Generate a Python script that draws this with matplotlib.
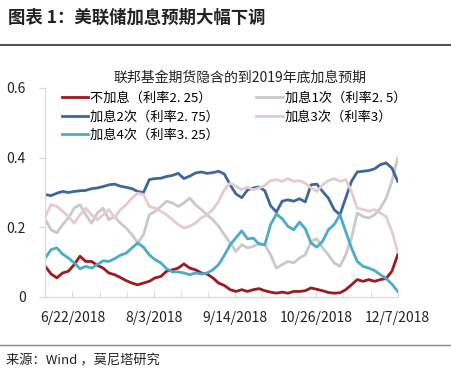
import pandas as pd
import matplotlib
matplotlib.use("Agg")
import matplotlib.pyplot as plt
from matplotlib.lines import Line2D

plt.rcParams['font.family'] = ['Noto Sans CJK SC', 'DejaVu Sans']

# dates: about every 3 days from 6/8/2018 to 12/7/2018
dates = pd.date_range("2018-06-08", "2018-12-07", periods=62)

# 不加息（利率2.25）
hike0 = [0.088, 0.066, 0.055, 0.069, 0.074, 0.093, 0.117, 0.102, 0.102, 0.091,
         0.083, 0.069, 0.064, 0.056, 0.047, 0.040, 0.035, 0.040, 0.045, 0.055,
         0.059, 0.074, 0.078, 0.083, 0.095, 0.083, 0.078, 0.069, 0.066, 0.055,
         0.040, 0.033, 0.021, 0.016, 0.021, 0.016, 0.021, 0.024, 0.018, 0.014,
         0.011, 0.014, 0.011, 0.016, 0.016, 0.018, 0.026, 0.022, 0.018, 0.013,
         0.011, 0.012, 0.021, 0.035, 0.050, 0.045, 0.050, 0.045, 0.050, 0.053,
         0.074, 0.121]
# 加息1次（利率2.5）
hike1 = [0.222, 0.193, 0.184, 0.208, 0.227, 0.255, 0.265, 0.236, 0.212, 0.241,
         0.255, 0.222, 0.231, 0.212, 0.198, 0.179, 0.155, 0.179, 0.236, 0.246,
         0.260, 0.275, 0.270, 0.260, 0.270, 0.284, 0.265, 0.251, 0.236, 0.222,
         0.203, 0.179, 0.155, 0.131, 0.150, 0.141, 0.145, 0.155, 0.150, 0.121,
         0.083, 0.093, 0.102, 0.098, 0.112, 0.121, 0.160, 0.167, 0.141, 0.121,
         0.098, 0.088, 0.121, 0.169, 0.241, 0.231, 0.227, 0.236, 0.255, 0.284,
         0.332, 0.399]
# 加息2次（利率2.75）
hike2 = [0.294, 0.291, 0.298, 0.303, 0.300, 0.303, 0.305, 0.306, 0.311, 0.313,
         0.317, 0.322, 0.324, 0.318, 0.315, 0.311, 0.303, 0.300, 0.337, 0.340,
         0.341, 0.346, 0.349, 0.355, 0.340, 0.347, 0.356, 0.359, 0.355, 0.357,
         0.361, 0.353, 0.322, 0.296, 0.285, 0.307, 0.313, 0.316, 0.305, 0.262,
         0.244, 0.275, 0.279, 0.275, 0.282, 0.273, 0.322, 0.324, 0.303, 0.284,
         0.251, 0.236, 0.284, 0.332, 0.359, 0.361, 0.363, 0.368, 0.380, 0.385,
         0.370, 0.332]
# 加息3次（利率3）
hike3 = [0.231, 0.265, 0.260, 0.246, 0.231, 0.212, 0.236, 0.255, 0.236, 0.222,
         0.236, 0.251, 0.227, 0.251, 0.265, 0.284, 0.298, 0.294, 0.260, 0.255,
         0.246, 0.236, 0.222, 0.208, 0.198, 0.203, 0.212, 0.227, 0.236, 0.251,
         0.275, 0.308, 0.327, 0.318, 0.308, 0.315, 0.308, 0.313, 0.320, 0.334,
         0.337, 0.332, 0.340, 0.332, 0.334, 0.327, 0.313, 0.303, 0.322, 0.334,
         0.340, 0.332, 0.337, 0.303, 0.255, 0.251, 0.246, 0.251, 0.241, 0.231,
         0.188, 0.131]
# 加息4次（利率3.25）
hike4 = [0.112, 0.136, 0.141, 0.123, 0.112, 0.098, 0.081, 0.088, 0.083, 0.093,
         0.104, 0.102, 0.110, 0.120, 0.126, 0.141, 0.155, 0.143, 0.121, 0.107,
         0.098, 0.081, 0.072, 0.072, 0.069, 0.064, 0.069, 0.066, 0.069, 0.078,
         0.093, 0.120, 0.150, 0.170, 0.190, 0.167, 0.169, 0.152, 0.150, 0.208,
         0.238, 0.225, 0.203, 0.193, 0.215, 0.196, 0.155, 0.143, 0.160, 0.193,
         0.208, 0.236, 0.188, 0.141, 0.102, 0.088, 0.083, 0.076, 0.064, 0.053,
         0.037, 0.016]

labels = ["不加息（利率2. 25）", "加息1次（利率2. 5）", "加息2次（利率2. 75）",
          "加息3次（利率3）", "加息4次（利率3. 25）"]
colors = ["#9c1a20", "#c9c9c9", "#3e679c", "#e5cbd0", "#4bacc6"]
series = [hike0, hike1, hike2, hike3, hike4]

fig = plt.figure(figsize=(4.51, 3.81), dpi=100)

# header
fig.text(8 / 451, 1 - 18 / 381, "图表 1：美联储加息预期大幅下调", fontsize=12.5,
         fontweight="bold", color="#222222", va="center", ha="left")
fig.add_artist(Line2D([0, 1], [1 - 45 / 381, 1 - 45 / 381], color="#555555", lw=1.5))

# footer
fig.add_artist(Line2D([0, 1], [1 - 345 / 381, 1 - 345 / 381], color="#888888", lw=1.0))
fig.text(6 / 451, 1 - 361 / 381, "来源：Wind ，莫尼塔研究", fontsize=9.5,
         color="#222222", va="center", ha="left")

ax = fig.add_axes([45.3 / 451, 1 - 297 / 381, 352.4 / 451, 209 / 381])

lines = {}
for s, lab, c in zip(series, labels, colors):
    lines[lab], = ax.plot(dates, s, color=c, lw=2.0, label=lab)

ax.set_xlim(pd.Timestamp("2018-06-08"), pd.Timestamp("2018-12-07"))
ax.set_ylim(0, 0.6)
ax.set_yticks([0, 0.2, 0.4, 0.6])
ax.set_yticklabels(["0", "0.2", "0.4", "0.6"])

major = pd.date_range("2018-06-22", "2018-12-07", freq="42D")
minor = pd.date_range("2018-06-08", "2018-12-07", freq="14D")
ax.set_xticks(major)
ax.set_xticklabels([f"{d.month}/{d.day}/{d.year}" for d in major])
ax.set_xticks(minor, minor=True)

for sp in ["top", "right"]:
    ax.spines[sp].set_visible(False)
for sp in ["left", "bottom"]:
    ax.spines[sp].set_color("#d9d9d9")
    ax.spines[sp].set_linewidth(0.9)
ax.tick_params(axis="x", which="both", direction="in", length=4, color="#d9d9d9",
               labelsize=10, labelcolor="#222222", pad=10)
ax.tick_params(axis="y", direction="out", length=4, color="#d9d9d9",
               labelsize=10, labelcolor="#222222", pad=10)

fig.text(240 / 451, 1 - 78 / 381, "联邦基金期货隐含的到2019年底加息预期",
         fontsize=10, color="#222222", ha="center", va="center")

order = [labels[0], labels[2], labels[4], labels[1], labels[3]]
fig.legend([lines[l] for l in order], order, ncol=2, loc="upper left",
           bbox_to_anchor=(62 / 451, 1 - 92 / 381), frameon=False, fontsize=9.5,
           handlelength=2.0, handletextpad=0.15, columnspacing=2.8,
           labelspacing=0.42, borderpad=0, borderaxespad=0)

fig.savefig("out.png", dpi=100)
